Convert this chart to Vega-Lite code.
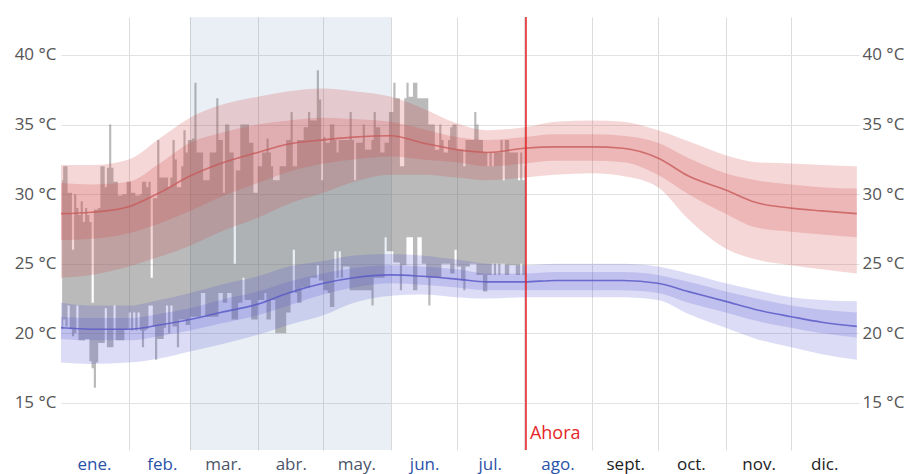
{
"$schema": "https://vega.github.io/schema/vega-lite/v6.json",
"width": 798, "height": 433, "autosize": "none",
"padding": {"left": 61, "top": 17, "right": 52, "bottom": 24},
"background": "white",
"config": {"view": {"stroke": null}, "font": "Open Sans"},
"datasets": {
"obs": [
{"date":"2023-01-01","lo":20.3,"hi":31.0},{"date":"2023-01-02","lo":21.0,"hi":32.0},{"date":"2023-01-03","lo":20.5,"hi":32.0},{"date":"2023-01-04","lo":22.0,"hi":30.1},{"date":"2023-01-05","lo":20.3,"hi":30.1},{"date":"2023-01-06","lo":19.8,"hi":26.0},{"date":"2023-01-07","lo":20.0,"hi":30.0},{"date":"2023-01-08","lo":22.0,"hi":29.0},{"date":"2023-01-09","lo":19.5,"hi":28.5},{"date":"2023-01-10","lo":19.5,"hi":29.5},{"date":"2023-01-11","lo":19.5,"hi":28.0},{"date":"2023-01-12","lo":19.6,"hi":29.0},{"date":"2023-01-13","lo":19.6,"hi":28.5},{"date":"2023-01-14","lo":18.0,"hi":28.0},{"date":"2023-01-15","lo":17.5,"hi":22.2},{"date":"2023-01-16","lo":16.1,"hi":28.9},{"date":"2023-01-17","lo":17.9,"hi":28.9},{"date":"2023-01-18","lo":19.3,"hi":29.0},{"date":"2023-01-19","lo":19.3,"hi":32.0},{"date":"2023-01-20","lo":19.3,"hi":32.0},{"date":"2023-01-21","lo":21.8,"hi":30.5},{"date":"2023-01-22","lo":19.0,"hi":31.9},{"date":"2023-01-23","lo":19.0,"hi":35.0},{"date":"2023-01-24","lo":19.0,"hi":31.9},{"date":"2023-01-25","lo":22.0,"hi":30.9},{"date":"2023-01-26","lo":19.5,"hi":30.9},{"date":"2023-01-27","lo":19.5,"hi":29.9},{"date":"2023-01-28","lo":19.5,"hi":29.9},{"date":"2023-01-29","lo":19.5,"hi":30.0},{"date":"2023-01-30","lo":20.3,"hi":30.0},{"date":"2023-01-31","lo":20.3,"hi":30.9},
{"date":"2023-02-01","lo":21.5,"hi":30.9},{"date":"2023-02-02","lo":20.2,"hi":30.1},{"date":"2023-02-03","lo":21.5,"hi":30.1},{"date":"2023-02-04","lo":20.2,"hi":29.9},{"date":"2023-02-05","lo":21.5,"hi":29.9},{"date":"2023-02-06","lo":20.2,"hi":30.0},{"date":"2023-02-07","lo":19.0,"hi":30.9},{"date":"2023-02-08","lo":20.2,"hi":30.9},{"date":"2023-02-09","lo":20.3,"hi":30.5},{"date":"2023-02-10","lo":22.0,"hi":30.9},{"date":"2023-02-11","lo":22.0,"hi":24.0},{"date":"2023-02-12","lo":20.5,"hi":29.7},{"date":"2023-02-13","lo":18.1,"hi":29.7},{"date":"2023-02-14","lo":19.6,"hi":33.9},{"date":"2023-02-15","lo":19.6,"hi":31.2},{"date":"2023-02-16","lo":19.6,"hi":31.2},{"date":"2023-02-17","lo":20.4,"hi":31.2},{"date":"2023-02-18","lo":22.0,"hi":31.2},{"date":"2023-02-19","lo":20.0,"hi":30.5},{"date":"2023-02-20","lo":22.0,"hi":31.2},{"date":"2023-02-21","lo":20.5,"hi":33.9},{"date":"2023-02-22","lo":20.5,"hi":32.5},{"date":"2023-02-23","lo":19.0,"hi":30.5},{"date":"2023-02-24","lo":21.0,"hi":30.5},{"date":"2023-02-25","lo":21.0,"hi":32.0},{"date":"2023-02-26","lo":21.0,"hi":34.6},{"date":"2023-02-27","lo":20.6,"hi":33.0},{"date":"2023-02-28","lo":20.6,"hi":33.9},
{"date":"2023-03-01","lo":21.2,"hi":33.9},{"date":"2023-03-02","lo":21.2,"hi":34.0},{"date":"2023-03-03","lo":21.2,"hi":38.0},{"date":"2023-03-04","lo":21.2,"hi":33.0},{"date":"2023-03-05","lo":21.2,"hi":33.0},{"date":"2023-03-06","lo":22.9,"hi":33.0},{"date":"2023-03-07","lo":22.9,"hi":31.0},{"date":"2023-03-08","lo":21.2,"hi":31.0},{"date":"2023-03-09","lo":21.2,"hi":31.0},{"date":"2023-03-10","lo":21.2,"hi":33.0},{"date":"2023-03-11","lo":21.2,"hi":33.0},{"date":"2023-03-12","lo":21.2,"hi":33.0},{"date":"2023-03-13","lo":21.2,"hi":36.9},{"date":"2023-03-14","lo":22.9,"hi":33.9},{"date":"2023-03-15","lo":22.9,"hi":33.9},{"date":"2023-03-16","lo":22.2,"hi":30.1},{"date":"2023-03-17","lo":22.2,"hi":35.0},{"date":"2023-03-18","lo":22.9,"hi":35.0},{"date":"2023-03-19","lo":22.9,"hi":33.0},{"date":"2023-03-20","lo":21.0,"hi":33.0},{"date":"2023-03-21","lo":21.0,"hi":25.0},{"date":"2023-03-22","lo":21.0,"hi":31.7},{"date":"2023-03-23","lo":22.2,"hi":31.7},{"date":"2023-03-24","lo":22.2,"hi":35.0},{"date":"2023-03-25","lo":24.0,"hi":35.0},{"date":"2023-03-26","lo":22.4,"hi":35.0},{"date":"2023-03-27","lo":22.4,"hi":35.0},{"date":"2023-03-28","lo":22.4,"hi":33.7},{"date":"2023-03-29","lo":21.0,"hi":33.7},{"date":"2023-03-30","lo":21.0,"hi":30.1},{"date":"2023-03-31","lo":21.0,"hi":30.1},
{"date":"2023-04-01","lo":22.4,"hi":32.0},{"date":"2023-04-02","lo":22.4,"hi":32.0},{"date":"2023-04-03","lo":22.4,"hi":33.0},{"date":"2023-04-04","lo":22.9,"hi":33.0},{"date":"2023-04-05","lo":21.0,"hi":34.0},{"date":"2023-04-06","lo":21.0,"hi":33.0},{"date":"2023-04-07","lo":22.4,"hi":32.0},{"date":"2023-04-08","lo":22.4,"hi":31.0},{"date":"2023-04-09","lo":20.0,"hi":31.0},{"date":"2023-04-10","lo":20.0,"hi":31.0},{"date":"2023-04-11","lo":20.0,"hi":32.0},{"date":"2023-04-12","lo":20.0,"hi":32.0},{"date":"2023-04-13","lo":20.0,"hi":32.0},{"date":"2023-04-14","lo":21.5,"hi":33.9},{"date":"2023-04-15","lo":21.5,"hi":33.9},{"date":"2023-04-16","lo":22.9,"hi":35.9},{"date":"2023-04-17","lo":26.0,"hi":32.0},{"date":"2023-04-18","lo":22.9,"hi":32.0},{"date":"2023-04-19","lo":22.2,"hi":33.9},{"date":"2023-04-20","lo":22.2,"hi":33.9},{"date":"2023-04-21","lo":23.3,"hi":33.9},{"date":"2023-04-22","lo":23.3,"hi":34.8},{"date":"2023-04-23","lo":23.3,"hi":34.8},{"date":"2023-04-24","lo":23.3,"hi":35.9},{"date":"2023-04-25","lo":24.0,"hi":35.3},{"date":"2023-04-26","lo":24.0,"hi":35.3},{"date":"2023-04-27","lo":24.0,"hi":35.3},{"date":"2023-04-28","lo":24.9,"hi":38.9},{"date":"2023-04-29","lo":23.8,"hi":36.8},{"date":"2023-04-30","lo":23.8,"hi":31.0},
{"date":"2023-05-01","lo":23.1,"hi":34.1},{"date":"2023-05-02","lo":23.1,"hi":33.7},{"date":"2023-05-03","lo":22.9,"hi":33.7},{"date":"2023-05-04","lo":21.9,"hi":35.0},{"date":"2023-05-05","lo":21.9,"hi":35.0},{"date":"2023-05-06","lo":25.9,"hi":33.9},{"date":"2023-05-07","lo":24.0,"hi":33.0},{"date":"2023-05-08","lo":25.9,"hi":33.9},{"date":"2023-05-09","lo":24.0,"hi":33.9},{"date":"2023-05-10","lo":24.8,"hi":33.9},{"date":"2023-05-11","lo":24.8,"hi":33.9},{"date":"2023-05-12","lo":24.8,"hi":33.9},{"date":"2023-05-13","lo":23.1,"hi":35.9},{"date":"2023-05-14","lo":23.1,"hi":33.9},{"date":"2023-05-15","lo":23.1,"hi":31.0},{"date":"2023-05-16","lo":23.1,"hi":33.7},{"date":"2023-05-17","lo":23.1,"hi":33.7},{"date":"2023-05-18","lo":23.1,"hi":33.7},{"date":"2023-05-19","lo":23.1,"hi":35.0},{"date":"2023-05-20","lo":23.1,"hi":33.2},{"date":"2023-05-21","lo":23.1,"hi":33.2},{"date":"2023-05-22","lo":23.1,"hi":33.2},{"date":"2023-05-23","lo":22.0,"hi":33.9},{"date":"2023-05-24","lo":24.0,"hi":35.9},{"date":"2023-05-25","lo":24.0,"hi":34.8},{"date":"2023-05-26","lo":24.0,"hi":34.8},{"date":"2023-05-27","lo":24.0,"hi":33.0},{"date":"2023-05-28","lo":24.0,"hi":33.0},{"date":"2023-05-29","lo":26.9,"hi":33.7},{"date":"2023-05-30","lo":25.9,"hi":33.7},{"date":"2023-05-31","lo":25.9,"hi":35.9},
{"date":"2023-06-01","lo":25.9,"hi":35.9},{"date":"2023-06-02","lo":25.1,"hi":38.0},{"date":"2023-06-03","lo":25.1,"hi":36.9},{"date":"2023-06-04","lo":25.1,"hi":36.9},{"date":"2023-06-05","lo":23.1,"hi":32.0},{"date":"2023-06-06","lo":24.9,"hi":32.0},{"date":"2023-06-07","lo":24.9,"hi":36.9},{"date":"2023-06-08","lo":26.9,"hi":38.0},{"date":"2023-06-09","lo":26.9,"hi":37.0},{"date":"2023-06-10","lo":26.9,"hi":37.0},{"date":"2023-06-11","lo":23.1,"hi":38.0},{"date":"2023-06-12","lo":23.1,"hi":38.0},{"date":"2023-06-13","lo":26.9,"hi":36.9},{"date":"2023-06-14","lo":26.9,"hi":36.9},{"date":"2023-06-15","lo":25.0,"hi":36.9},{"date":"2023-06-16","lo":25.0,"hi":36.9},{"date":"2023-06-17","lo":24.0,"hi":36.9},{"date":"2023-06-18","lo":22.0,"hi":35.0},{"date":"2023-06-19","lo":24.0,"hi":35.0},{"date":"2023-06-20","lo":24.0,"hi":35.0},{"date":"2023-06-21","lo":24.0,"hi":33.2},{"date":"2023-06-22","lo":24.0,"hi":33.2},{"date":"2023-06-23","lo":24.0,"hi":35.0},{"date":"2023-06-24","lo":25.0,"hi":33.9},{"date":"2023-06-25","lo":25.0,"hi":33.0},{"date":"2023-06-26","lo":25.0,"hi":33.0},{"date":"2023-06-27","lo":25.0,"hi":33.9},{"date":"2023-06-28","lo":24.3,"hi":34.8},{"date":"2023-06-29","lo":24.3,"hi":35.0},{"date":"2023-06-30","lo":26.0,"hi":35.0},
{"date":"2023-07-01","lo":24.8,"hi":33.2},{"date":"2023-07-02","lo":24.8,"hi":33.2},{"date":"2023-07-03","lo":23.8,"hi":33.2},{"date":"2023-07-04","lo":23.1,"hi":32.0},{"date":"2023-07-05","lo":24.8,"hi":33.9},{"date":"2023-07-06","lo":24.8,"hi":33.9},{"date":"2023-07-07","lo":25.0,"hi":33.9},{"date":"2023-07-08","lo":25.0,"hi":33.9},{"date":"2023-07-09","lo":25.0,"hi":35.9},{"date":"2023-07-10","lo":24.2,"hi":35.0},{"date":"2023-07-11","lo":24.2,"hi":33.9},{"date":"2023-07-12","lo":24.2,"hi":33.9},{"date":"2023-07-13","lo":23.0,"hi":33.0},{"date":"2023-07-14","lo":23.0,"hi":33.0},{"date":"2023-07-15","lo":24.2,"hi":32.0},{"date":"2023-07-16","lo":24.2,"hi":33.0},{"date":"2023-07-17","lo":25.0,"hi":32.0},{"date":"2023-07-18","lo":24.2,"hi":33.0},{"date":"2023-07-19","lo":25.0,"hi":33.0},{"date":"2023-07-20","lo":24.2,"hi":33.0},{"date":"2023-07-21","lo":25.0,"hi":33.9},{"date":"2023-07-22","lo":25.0,"hi":31.0},{"date":"2023-07-23","lo":24.2,"hi":33.9},{"date":"2023-07-24","lo":24.2,"hi":33.9},{"date":"2023-07-25","lo":24.9,"hi":33.0},{"date":"2023-07-26","lo":24.9,"hi":33.0},{"date":"2023-07-27","lo":24.9,"hi":33.0},{"date":"2023-07-28","lo":24.2,"hi":33.0},{"date":"2023-07-29","lo":24.2,"hi":31.0},{"date":"2023-07-30","lo":25.0,"hi":33.0},{"date":"2023-07-31","lo":24.2,"hi":31.0},
{"date":"2023-08-01","lo":24.2,"hi":32.0}
],
"norm": [
{"date":"2023-01-01","h10":24.0,"h25":26.7,"h50":28.6,"h75":30.8,"h90":32.1,"l10":17.9,"l25":19.6,"l50":20.4,"l75":21.2,"l90":22.2},
{"date":"2023-01-15","h10":24.2,"h25":26.8,"h50":28.7,"h75":30.7,"h90":32.1,"l10":17.8,"l25":19.5,"l50":20.3,"l75":21.1,"l90":22.0},
{"date":"2023-02-01","h10":24.8,"h25":27.2,"h50":29.1,"h75":30.9,"h90":32.5,"l10":17.9,"l25":19.5,"l50":20.3,"l75":21.1,"l90":22.0},
{"date":"2023-02-15","h10":25.5,"h25":27.9,"h50":30.1,"h75":32.2,"h90":34.0,"l10":18.2,"l25":19.8,"l50":20.6,"l75":21.4,"l90":22.4},
{"date":"2023-03-01","h10":26.3,"h25":28.8,"h50":31.3,"h75":33.7,"h90":35.5,"l10":18.7,"l25":20.2,"l50":21.0,"l75":21.8,"l90":22.9},
{"date":"2023-03-15","h10":27.3,"h25":29.8,"h50":32.2,"h75":34.4,"h90":36.4,"l10":19.2,"l25":20.7,"l50":21.5,"l75":22.4,"l90":23.5},
{"date":"2023-04-01","h10":28.3,"h25":30.8,"h50":33.0,"h75":35.0,"h90":37.0,"l10":19.9,"l25":21.3,"l50":22.1,"l75":23.0,"l90":24.1},
{"date":"2023-04-15","h10":29.3,"h25":31.6,"h50":33.6,"h75":35.3,"h90":37.4,"l10":20.6,"l25":22.0,"l50":22.9,"l75":23.7,"l90":24.8},
{"date":"2023-05-01","h10":30.1,"h25":32.2,"h50":33.9,"h75":35.5,"h90":37.6,"l10":21.3,"l25":22.8,"l50":23.6,"l75":24.3,"l90":25.2},
{"date":"2023-05-15","h10":30.9,"h25":32.5,"h50":34.1,"h75":35.4,"h90":37.4,"l10":22.2,"l25":23.3,"l50":24.0,"l75":24.7,"l90":25.6},
{"date":"2023-06-01","h10":31.4,"h25":32.7,"h50":34.2,"h75":35.2,"h90":37.0,"l10":22.7,"l25":23.6,"l50":24.2,"l75":24.9,"l90":25.7},
{"date":"2023-06-15","h10":31.4,"h25":32.5,"h50":33.7,"h75":34.7,"h90":36.2,"l10":22.8,"l25":23.5,"l50":24.1,"l75":24.8,"l90":25.6},
{"date":"2023-07-01","h10":31.2,"h25":32.3,"h50":33.2,"h75":34.1,"h90":35.1,"l10":22.6,"l25":23.3,"l50":23.9,"l75":24.6,"l90":25.3},
{"date":"2023-07-15","h10":31.0,"h25":32.0,"h50":33.0,"h75":33.9,"h90":34.6,"l10":22.5,"l25":23.1,"l50":23.7,"l75":24.3,"l90":25.0},
{"date":"2023-08-01","h10":31.2,"h25":32.2,"h50":33.3,"h75":34.1,"h90":34.8,"l10":22.6,"l25":23.1,"l50":23.7,"l75":24.3,"l90":24.9},
{"date":"2023-08-15","h10":31.4,"h25":32.4,"h50":33.4,"h75":34.3,"h90":35.2,"l10":22.6,"l25":23.1,"l50":23.8,"l75":24.4,"l90":25.0},
{"date":"2023-09-01","h10":31.5,"h25":32.4,"h50":33.4,"h75":34.3,"h90":35.3,"l10":22.6,"l25":23.1,"l50":23.8,"l75":24.4,"l90":25.0},
{"date":"2023-09-15","h10":31.3,"h25":32.3,"h50":33.3,"h75":34.2,"h90":35.2,"l10":22.6,"l25":23.1,"l50":23.8,"l75":24.4,"l90":25.0},
{"date":"2023-10-01","h10":30.5,"h25":31.4,"h50":32.6,"h75":33.7,"h90":34.6,"l10":22.4,"l25":22.9,"l50":23.6,"l75":24.2,"l90":24.8},
{"date":"2023-10-15","h10":28.2,"h25":30.0,"h50":31.3,"h75":32.6,"h90":33.8,"l10":21.4,"l25":22.2,"l50":23.0,"l75":23.7,"l90":24.3},
{"date":"2023-11-01","h10":26.1,"h25":28.6,"h50":30.3,"h75":31.5,"h90":32.8,"l10":20.4,"l25":21.5,"l50":22.3,"l75":23.0,"l90":23.6},
{"date":"2023-11-15","h10":25.3,"h25":27.6,"h50":29.4,"h75":31.0,"h90":32.3,"l10":19.6,"l25":20.9,"l50":21.7,"l75":22.5,"l90":23.1},
{"date":"2023-12-01","h10":24.9,"h25":27.3,"h50":29.0,"h75":30.7,"h90":32.2,"l10":19.0,"l25":20.4,"l50":21.2,"l75":22.0,"l90":22.6},
{"date":"2023-12-15","h10":24.6,"h25":27.1,"h50":28.8,"h75":30.5,"h90":32.1,"l10":18.5,"l25":20.0,"l50":20.8,"l75":21.7,"l90":22.4},
{"date":"2023-12-31","h10":24.3,"h25":26.9,"h50":28.6,"h75":30.4,"h90":32.0,"l10":18.1,"l25":19.7,"l50":20.5,"l75":21.5,"l90":22.3}
]
},
"layer": [
{
"data": {"values": [{}]},
"mark": {"type": "rect", "color": "#4a7ab0", "opacity": 0.12},
"encoding": {
"x": {"datum": {"year": 2023, "month": 3, "date": 1, "utc": true}, "type": "temporal", "title": null,
"scale": {"type": "utc", "domain": [{"year": 2023, "month": 1, "date": 1, "utc": true}, {"year": 2024, "month": 1, "date": 1, "utc": true}]},
"axis": {"values": [1672531200000,1675209600000,1677628800000,1680307200000,1682899200000,1685577600000,1688169600000,1690848000000,1693526400000,1696118400000,1698796800000,1701388800000],
"grid": true, "gridColor": {"condition": {"test": "utcmonth(datum.value) == 0", "value": "rgba(0,0,0,0)"}, "value": "#dcdcdc"},
"ticks": false, "tickSize": 0, "domain": false,
"labelExpr": "['ene.','feb.','mar.','abr.','may.','jun.','jul.','ago.','sept.','oct.','nov.','dic.'][utcmonth(datum.value)]",
"labelOffset": 33, "labelPadding": 6, "labelFontSize": 17, "labelFont": "Open Sans",
"labelFlush": false, "labelOverlap": false, "labelBound": false,
"labelColor": {"condition": [{"test": "utcmonth(datum.value) >= 8", "value": "#222222"}, {"test": "utcmonth(datum.value) >= 2 && utcmonth(datum.value) <= 4", "value": "#4b5568"}], "value": "#2a52a8"},
"title": null}},
"x2": {"datum": {"year": 2023, "month": 6, "date": 1, "utc": true}},
"y": {"datum": 42.73, "type": "quantitative", "title": null, "scale": {"domain": [11.62, 42.73], "nice": false, "zero": false}, "axis": null},
"y2": {"datum": 11.62}
}
},
{
"data": {"name": "obs"},
"mark": {"type": "area", "interpolate": "step", "color": "#6e6e6e", "opacity": 0.48},
"encoding": {
"x": {"field": "date", "type": "temporal", "timeUnit": "utcyearmonthdate", "bandPosition": 0.5, "title": null},
"y": {"field": "hi", "type": "quantitative", "title": null,
"axis": {"orient": "left", "values": [15,20,25,30,35,40], "labelExpr": "datum.value + ' °C'", "grid": true, "gridColor": "#e2e2e2", "ticks": false, "tickSize": 0, "domain": false, "labelPadding": 5, "labelFontSize": 17, "labelColor": "#555555", "labelFont": "Open Sans", "title": null}},
"y2": {"field": "lo"}
}
},
{
"data": {"name": "norm"},
"mark": {"type": "area", "interpolate": "monotone", "color": "#d04848", "opacity": 0.22},
"encoding": {
"x": {"field": "date", "type": "temporal", "title": null},
"y": {"field": "h10", "type": "quantitative", "title": null,
"axis": {"orient": "right", "values": [15,20,25,30,35,40], "labelExpr": "datum.value + ' °C'", "grid": false, "ticks": false, "tickSize": 0, "domain": false, "labelPadding": 3, "labelFontSize": 17, "labelColor": "#555555", "labelFont": "Open Sans", "title": null}},
"y2": {"field": "h90"}
}
},
{
"data": {"name": "norm"},
"mark": {"type": "area", "interpolate": "monotone", "color": "#d04848", "opacity": 0.22},
"encoding": {
"x": {"field": "date", "type": "temporal", "title": null},
"y": {"field": "h25", "type": "quantitative", "title": null, "axis": null},
"y2": {"field": "h75"}
}
},
{
"data": {"name": "norm"},
"mark": {"type": "area", "interpolate": "monotone", "color": "#5050d0", "opacity": 0.2},
"encoding": {
"x": {"field": "date", "type": "temporal", "title": null},
"y": {"field": "l10", "type": "quantitative", "title": null, "axis": null},
"y2": {"field": "l90"}
}
},
{
"data": {"name": "norm"},
"mark": {"type": "area", "interpolate": "monotone", "color": "#5050d0", "opacity": 0.2},
"encoding": {
"x": {"field": "date", "type": "temporal", "title": null},
"y": {"field": "l25", "type": "quantitative", "title": null, "axis": null},
"y2": {"field": "l75"}
}
},
{
"data": {"name": "norm"},
"mark": {"type": "line", "interpolate": "monotone", "color": "#c85a5a", "strokeWidth": 1.6, "opacity": 0.8},
"encoding": {
"x": {"field": "date", "type": "temporal", "title": null},
"y": {"field": "h50", "type": "quantitative", "title": null, "axis": null}
}
},
{
"data": {"name": "norm"},
"mark": {"type": "line", "interpolate": "monotone", "color": "#5a5ac8", "strokeWidth": 1.6, "opacity": 0.85},
"encoding": {
"x": {"field": "date", "type": "temporal", "title": null},
"y": {"field": "l50", "type": "quantitative", "title": null, "axis": null}
}
},
{
"data": {"values": [{}]},
"mark": {"type": "rule", "color": "#e5262a", "strokeWidth": 1.6},
"encoding": {
"x": {"datum": {"year": 2023, "month": 8, "date": 1, "hours": 16, "utc": true}, "type": "temporal", "title": null}
}
},
{
"data": {"values": [{}]},
"mark": {"type": "text", "color": "#e5262a", "fontSize": 18, "font": "Open Sans", "align": "left", "baseline": "middle", "dx": 4},
"encoding": {
"x": {"datum": {"year": 2023, "month": 8, "date": 1, "hours": 16, "utc": true}, "type": "temporal", "title": null},
"y": {"datum": 12.8, "type": "quantitative", "title": null, "axis": null},
"text": {"value": "Ahora"}
}
}
],
"resolve": {"axis": {"y": "independent"}}
}
